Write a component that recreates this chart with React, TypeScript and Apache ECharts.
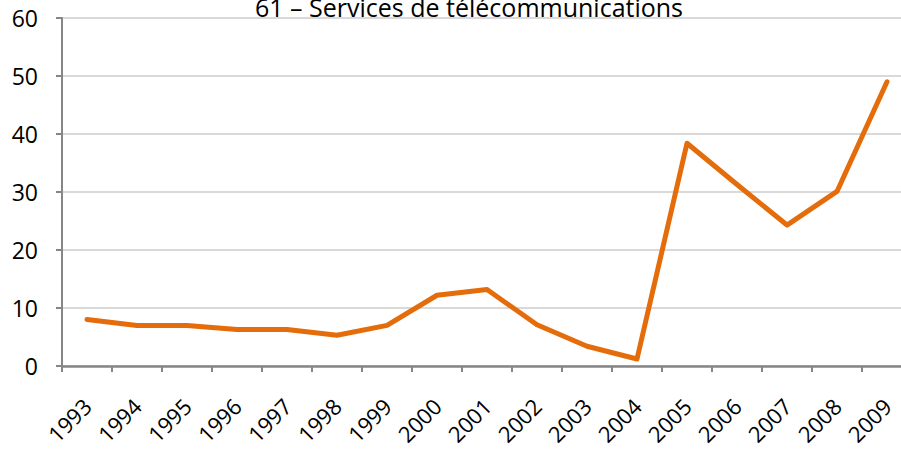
import React, { useEffect, useRef } from "react";
import * as echarts from "echarts";

const titleText = "61 – Services de télécommunications";
const years = ["1993","1994","1995","1996","1997","1998","1999","2000","2001","2002","2003","2004","2005","2006","2007","2008","2009"];
const values = [8.0, 7.0, 7.0, 6.3, 6.3, 5.3, 7.0, 12.2, 13.2, 7.1, 3.4, 1.2, 38.4, 31.3, 24.3, 30.1, 49.0];
const yTicks = { min: 0, max: 60, interval: 10 };

export default function App() {
  const ref = useRef<HTMLDivElement>(null);
  useEffect(() => {
    if (!ref.current) return;
    const chart = echarts.init(ref.current, null, { renderer: "svg" });
    const font = "'Open Sans', 'Noto Sans', sans-serif";
    chart.setOption({
      animation: false,
      backgroundColor: "#ffffff",
      textStyle: { fontFamily: font },
      graphic: [
        {
          type: "text",
          x: 469,
          y: 19,
          style: {
            text: titleText,
            fill: "#000000",
            font: `25px ${font}`,
            textAlign: "center",
            textVerticalAlign: "bottom",
          },
        },
      ],
      grid: { left: 62, top: 18, width: 850, height: 348, containLabel: false },
      xAxis: {
        type: "category",
        data: years,
        boundaryGap: true,
        axisLine: { lineStyle: { color: "#868686", width: 2.5 } },
        axisTick: { show: true, length: 6, alignWithLabel: false, lineStyle: { color: "#868686", width: 2 } },
        axisLabel: { rotate: 45, margin: 36, color: "#000000", fontSize: 22, fontFamily: font, interval: 0 },
        splitLine: { show: false },
      },
      yAxis: {
        type: "value",
        min: yTicks.min,
        max: yTicks.max,
        interval: yTicks.interval,
        axisLine: { show: true, lineStyle: { color: "#868686", width: 2 } },
        axisTick: { show: true, length: 6, lineStyle: { color: "#868686", width: 2 } },
        axisLabel: { margin: 24, color: "#000000", fontSize: 23, fontFamily: font },
        splitLine: { show: true, lineStyle: { color: "#d9d9d9", width: 2 } },
      },
      series: [
        {
          type: "line",
          data: values,
          symbol: "none",
          lineStyle: { color: "#E46C0A", width: 5, cap: "round", join: "round" },
        },
      ],
    });
    return () => chart.dispose();
  }, []);
  return (
    <div style={{ position: "fixed", left: 0, top: 0, width: 901, height: 451, overflow: "hidden", background: "#fff" }}>
      <div ref={ref} style={{ width: 920, height: 451 }} />
    </div>
  );
}
